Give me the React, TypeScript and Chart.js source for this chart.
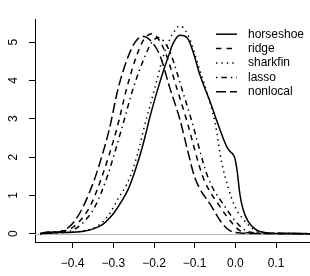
import React, { useEffect, useRef } from "react";
import { Chart, registerables } from "chart.js";

Chart.register(...registerables);

const seriesNames = ["horseshoe", "ridge", "sharkfin", "lasso", "nonlocal"];

const horseshoeX = [-0.48, -0.46, -0.431, -0.40, -0.382, -0.365, -0.349, -0.325, -0.308, -0.296, -0.280, -0.263, -0.247, -0.230, -0.220, -0.210, -0.190, -0.177, -0.165, -0.153, -0.1365, -0.126, -0.116, -0.104, -0.087, -0.063, -0.038, -0.0216, -0.0135, -0.005, -0.001, 0.0045, 0.011, 0.019, 0.031, 0.048, 0.060, 0.08, 0.12, 0.184];
const horseshoeY = [0, 0.01, 0.03, 0.035, 0.05, 0.08, 0.125, 0.25, 0.42, 0.58, 0.84, 1.17, 1.63, 2.21, 2.62, 3.05, 3.80, 4.25, 4.62, 4.97, 5.18, 5.17, 5.08, 4.75, 4.14, 3.47, 2.72, 2.28, 2.15, 2.06, 1.96, 1.63, 1.04, 0.63, 0.33, 0.125, 0.06, 0.02, 0.005, 0];

const ridgeX = [-0.48, -0.465, -0.45, -0.43, -0.41, -0.386, -0.3575, -0.329, -0.292, -0.267, -0.243, -0.225, -0.205, -0.187, -0.169, -0.144, -0.120, -0.079, -0.038, -0.009, 0.011, 0.035, 0.07, 0.184];
const ridgeY = [0, 0.03, 0.04, 0.06, 0.10, 0.29, 0.71, 1.46, 2.72, 3.80, 4.64, 5.07, 5.22, 5.05, 4.64, 3.80, 2.97, 1.46, 0.71, 0.29, 0.08, 0.02, 0.005, 0];

const sharkfinX = [-0.48, -0.44, -0.40, -0.37, -0.35, -0.33, -0.308, -0.288, -0.267, -0.251, -0.235, -0.226, -0.198, -0.177, -0.160, -0.149, -0.138, -0.128, -0.118, -0.108, -0.091, -0.071, -0.050, -0.034, -0.0177, -0.0012, 0.019, 0.044, 0.06, 0.09, 0.184];
const sharkfinY = [0, 0.02, 0.04, 0.08, 0.14, 0.27, 0.54, 0.92, 1.29, 1.71, 2.30, 2.70, 3.80, 4.64, 5.10, 5.30, 5.42, 5.38, 5.22, 4.97, 4.39, 3.72, 2.90, 1.88, 1.21, 0.71, 0.38, 0.125, 0.05, 0.015, 0];

const lassoX = [-0.48, -0.46, -0.44, -0.42, -0.40, -0.374, -0.345, -0.316, -0.280, -0.251, -0.222, -0.205, -0.190, -0.174, -0.157, -0.132, -0.108, -0.067, -0.026, 0.003, 0.025, 0.05, 0.09, 0.184];
const lassoY = [0, 0.03, 0.03, 0.05, 0.09, 0.29, 0.71, 1.46, 2.72, 3.80, 4.64, 5.0, 5.12, 5.0, 4.64, 3.80, 2.97, 1.46, 0.71, 0.29, 0.08, 0.02, 0.005, 0];

const nonlocalX = [-0.48, -0.468, -0.455, -0.44, -0.419, -0.398, -0.374, -0.345, -0.326, -0.310, -0.288, -0.263, -0.245, -0.226, -0.205, -0.185, -0.161, -0.136, -0.118, -0.0995, -0.0585, -0.034, -0.0135, 0.01, 0.05, 0.184];
const nonlocalY = [0, 0.03, 0.05, 0.04, 0.10, 0.29, 0.71, 1.46, 2.10, 2.72, 3.80, 4.64, 5.02, 5.15, 5.00, 4.64, 3.80, 2.97, 2.20, 1.46, 0.71, 0.29, 0.08, 0.02, 0.005, 0];

const xTicks = [-0.4, -0.3, -0.2, -0.1, 0.0, 0.1];
const yTicks = [0, 1, 2, 3, 4, 5];

const xSeries = [horseshoeX, ridgeX, sharkfinX, lassoX, nonlocalX];
const ySeries = [horseshoeY, ridgeY, sharkfinY, lassoY, nonlocalY];
const dashes: number[][] = [[], [5.5, 5], [1.4, 4], [1.4, 4, 5.5, 4], [10, 4]];

const FONT = "'Liberation Sans', Arial, Helvetica, sans-serif";

const fmt = (v: number) => {
  const s = Math.abs(v).toFixed(1);
  return v < -1e-9 ? "\u2212" + s : s;
};

const zeroLinePlugin = {
  id: "zeroLine",
  beforeDatasetsDraw(chart: any) {
    const { ctx, chartArea, scales } = chart;
    const y = Math.round(scales.y.getPixelForValue(0)) + 0.5;
    ctx.save();
    ctx.strokeStyle = "#b4b4b4";
    ctx.lineWidth = 1;
    ctx.beginPath();
    ctx.moveTo(chartArea.left, y);
    ctx.lineTo(chartArea.right, y);
    ctx.stroke();
    ctx.restore();
  },
};

const legendPlugin = {
  id: "rLegend",
  afterDatasetsDraw(chart: any) {
    const { ctx, chartArea } = chart;
    const x0 = chartArea.right - 94;
    const x1 = x0 + 21;
    const tx = x0 + 32;
    ctx.save();
    seriesNames.forEach((name, i) => {
      const y = chartArea.top + 15 + i * 14.4;
      ctx.beginPath();
      ctx.setLineDash(dashes[i]);
      ctx.lineWidth = 1.5;
      ctx.strokeStyle = "#000";
      ctx.moveTo(x0, y);
      ctx.lineTo(x1, y);
      ctx.stroke();
      ctx.setLineDash([]);
      ctx.fillStyle = "#000";
      ctx.font = `12px ${FONT}`;
      ctx.textBaseline = "middle";
      ctx.textAlign = "left";
      ctx.fillText(name, tx, y);
    });
    ctx.restore();
  },
};

export default function App() {
  const ref = useRef<HTMLCanvasElement | null>(null);

  useEffect(() => {
    if (!ref.current) return;
    const datasets = seriesNames.map((name, i) => ({
      label: name,
      data: xSeries[i].map((x, j) => ({ x, y: ySeries[i][j] })),
      borderColor: "#000",
      backgroundColor: "#000",
      borderWidth: 1.5,
      borderDash: dashes[i],
      pointRadius: 0,
      fill: false,
      cubicInterpolationMode: "monotone" as const,
    }));

    const chart = new Chart(ref.current, {
      type: "line",
      data: { datasets },
      options: {
        responsive: false,
        animation: false,
        layout: { padding: { top: 10, right: 0, left: 0, bottom: 0 } },
        plugins: { legend: { display: false }, tooltip: { enabled: false } },
        scales: {
          x: {
            type: "linear",
            min: -0.4926,
            max: 0.1835,
            afterBuildTicks: (scale: any) => {
              scale.ticks = xTicks.map((v) => ({ value: v }));
            },
            afterFit: (scale: any) => {
              scale.height = 34;
            },
            grid: { display: true, drawOnChartArea: false, drawTicks: true, tickLength: 6, color: "#000", lineWidth: 1 },
            border: { display: true, color: "#000", width: 1 },
            ticks: {
              color: "#000",
              font: { family: FONT, size: 12 },
              padding: 8,
              maxRotation: 0,
              minRotation: 0,
              callback: (v: any) => fmt(Number(v)),
            },
          },
          y: {
            type: "linear",
            min: -0.218,
            max: 5.6,
            afterBuildTicks: (scale: any) => {
              scale.ticks = yTicks.map((v) => ({ value: v }));
            },
            afterFit: (scale: any) => {
              scale.width = 35;
            },
            grid: { display: true, drawOnChartArea: false, drawTicks: true, tickLength: 6, color: "#000", lineWidth: 1 },
            border: { display: true, color: "#000", width: 1 },
            ticks: {
              color: "#000",
              font: { family: FONT, size: 12 },
              minRotation: 90,
              maxRotation: 90,
              crossAlign: "center",
              padding: 12,
              callback: (v: any) => String(v),
            },
          },
        },
      },
      plugins: [zeroLinePlugin, legendPlugin],
    });
    return () => chart.destroy();
  }, []);

  return (
    <div style={{ position: "absolute", left: 0, top: 0, width: 310, height: 276, background: "#fff" }}>
      <canvas ref={ref} width={310} height={276} style={{ display: "block" }} />
    </div>
  );
}
